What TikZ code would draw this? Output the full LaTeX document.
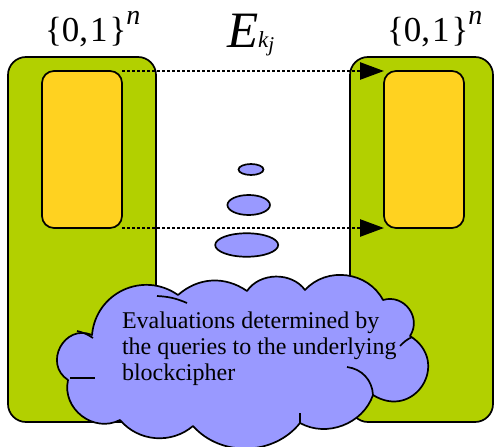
\documentclass[tikz,border=0pt]{standalone}
\usepackage{fontspec}
\setmainfont{Liberation Serif}
\usetikzlibrary{arrows.meta,shapes.geometric}
\definecolor{grn}{RGB}{178,208,0}
\definecolor{ylw}{RGB}{255,210,32}
\definecolor{blu}{RGB}{153,153,255}
\begin{document}
\begin{tikzpicture}[x=1pt,y=-1pt,
  gbox/.style={draw=black, line width=1.7pt, fill=grn, rounded corners=18pt, inner sep=0pt, outer sep=0pt, minimum height=365pt},
  ybox/.style={draw=black, line width=1.7pt, fill=ylw, rounded corners=12pt, minimum width=80pt, minimum height=157pt, inner sep=0pt, outer sep=0pt},
  dotarrow/.style={line width=2.6pt, dash pattern=on 2.6pt off 2.4pt, -{Triangle[length=24pt,width=17pt]}},
  blob/.style={ellipse, draw=black, line width=1.7pt, fill=blu, inner sep=0pt, outer sep=0pt},
  cloudline/.style={draw=black, line width=1.7pt, line join=round},
  lbl/.style={inner sep=0pt, outer sep=0pt, anchor=base west}]
\useasboundingbox (0,0) rectangle (494,446);
% green boxes
\node[gbox, minimum width=148pt] (lg) at (82,239.5) {};
\node[gbox, minimum width=143pt] (rg) at (421.5,239.5) {};
% yellow boxes
\node[ybox] (ly) at (82,149.5) {};
\node[ybox] (ry) at (424,149.5) {};
% dotted arrows
\draw[dotarrow] (ly.north east) -- (ry.north west);
\draw[dotarrow] (ly.south east) -- (ry.south west);
% ellipses
\node[blob, minimum width=25pt, minimum height=11pt] (e1) at (251,169.5) {};
\node[blob, minimum width=42.5pt, minimum height=20pt] (e2) at (248.7,205) {};
\node[blob, minimum width=63pt, minimum height=23.5pt] (e3) at (246.7,245) {};
% cloud
\coordinate (J1) at (92,335);
\coordinate (J2) at (178,295);
\coordinate (J3) at (247,291);
\coordinate (J4) at (305,290);
\coordinate (J5) at (383,300);
\coordinate (J6) at (410,336);
\coordinate (J7) at (373,395);
\coordinate (J8) at (300,423);
\coordinate (J9) at (193,426);
\coordinate (J10) at (120,420);
\coordinate (J0) at (68,380);
\path[cloudline, fill=blu] (J1) to[bend left=60, looseness=1.15] (J2)
  to[bend left=38] (J3)
  to[bend left=55] (J4)
  to[bend left=55, looseness=1.05] (J5)
  to[bend left=70, looseness=1.25] (J6)
  to[bend left=90, looseness=1.8] (J7)
  to[bend left=50] (J8)
  to[bend left=50] (J9)
  to[bend left=45] (J10)
  to[bend left=65, looseness=1.15] (J0)
  to[bend left=85, looseness=1.5] cycle;
% hint arcs
\coordinate (h1a) at (77,331); \coordinate (h1b) at (93,338);
\coordinate (h2a) at (70,378); \coordinate (h2b) at (95,378);
\coordinate (h3a) at (157,296); \coordinate (h3b) at (187,303);
\coordinate (h4a) at (300,413); \coordinate (h4b) at (300,423);
\coordinate (h5a) at (347,367); \coordinate (h5b) at (373,395);
\coordinate (h6a) at (400,346); \coordinate (h6b) at (412,337);
\draw[cloudline] (h1a) to[bend left=10] (h1b);
\draw[cloudline] (h2a) -- (h2b);
\draw[cloudline] (h3a) to[bend left=10] (h3b);
\draw[cloudline] (h4a) -- (h4b);
\draw[cloudline] (h5a) to[bend left=40] (h5b);
\draw[cloudline] (h6a) to[bend left=10] (h6b);
% cloud text
\node[inner sep=0pt, outer sep=0pt, anchor=north west, align=left,
  font=\fontsize{24}{26}\selectfont] (ct) at (122,311.5)
  {Evaluations determined by\\the queries to the underlying\\blockcipher};
% labels
\node[lbl, font=\fontsize{35}{35}\selectfont] (l1) at (45,42) {\{0,\kern2pt1\kern2pt\}\raisebox{17pt}{\fontsize{28}{28}\selectfont\itshape n}};
\node[lbl, font=\fontsize{35}{35}\selectfont] (l2) at (387,42) {\{0,\kern2pt1\kern2pt\}\raisebox{17pt}{\fontsize{28}{28}\selectfont\itshape n}};
\node[lbl, font=\fontsize{51}{51}\selectfont] (ek) at (227,48) {\itshape E{\fontsize{23}{23}\selectfont k\raisebox{-4pt}{\fontsize{21}{21}\selectfont j}}};
\end{tikzpicture}
\end{document}
